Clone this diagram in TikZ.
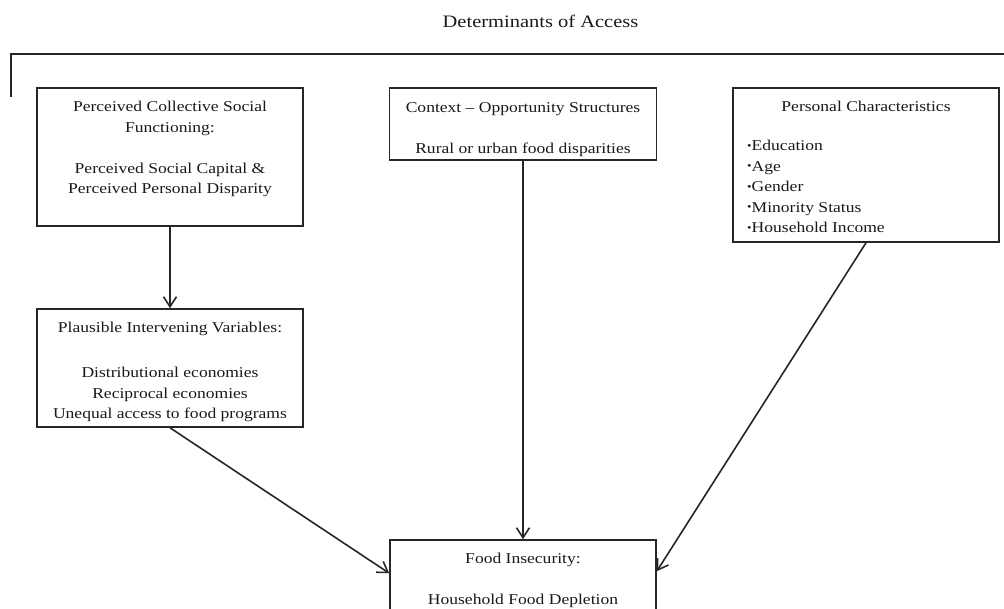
\documentclass[tikz,border=0pt]{standalone}
\usepackage{fontspec}
\setmainfont{Liberation Serif}[FakeStretch=1.17]
\usetikzlibrary{arrows.meta}
\newcommand{\bul}{\raisebox{1.6pt}{\fontsize{11}{11}\selectfont •}}
\begin{document}
\begin{tikzpicture}[x=1pt,y=-1pt,
  every node/.style={text=black!90},
  box/.style={draw=black!85, line width=1.6pt, inner sep=0pt, rectangle},
  txt/.style={inner sep=0pt, align=center, font=\fontsize{15}{20.5}\selectfont},
  arr/.style={draw=black!85, line width=1.6pt, -{Straight Barb[length=10pt,width=13pt,line width=1.6pt]}}]
\useasboundingbox (0,0) rectangle (1004,609);
\clip (0,0) rectangle (1004,609);
% title and bracket
\node[inner sep=0pt, anchor=base, font=\fontsize{17.5}{20}\selectfont] (title) at (540.5,27.7) {Determinants of Access};
\coordinate (brL) at (11,97);
\coordinate (brR) at (1010,54);
\draw[line width=1.6pt, draw=black!85] (brL) |- (brR);
% boxes
\node[box, minimum width=266pt, minimum height=138pt] (b1) at (170,157) {};
\node[box, minimum width=267pt, minimum height=72pt] (b2) at (523,124) {};
\node[box, minimum width=266pt, minimum height=154pt] (b3) at (866,165) {};
\node[box, minimum width=266pt, minimum height=118pt] (b4) at (170,368) {};
\node[box, minimum width=266pt, minimum height=140pt] (b5) at (523,610) {};
% texts
\node[txt, anchor=north] (t1) at (170,101) {Perceived Collective Social\\Functioning:\\[20.5pt]Perceived Social Capital \&\\Perceived Personal Disparity};
\node[txt, anchor=north] (t2) at (523,102) {Context -- Opportunity Structures\\[20.5pt]Rural or urban food disparities};
\node[txt, anchor=base] (t3a) at (866,112) {Personal Characteristics};
\node[txt, anchor=north west, align=left] (t3b) at (747,140) {\bul Education\\\bul Age\\\bul Gender\\\bul Minority Status\\\bul Household Income};
\node[txt, anchor=north] (t4) at (170,322) {Plausible Intervening Variables:\\[24.5pt]Distributional economies\\Reciprocal economies\\Unequal access to food programs};
\node[txt, anchor=north] (t5) at (523,553) {Food Insecurity:\\[20.5pt]Household Food Depletion};
% connectors
\draw[arr] (b1.south) -- (b4.north);
\draw[arr] (b2.south) -- (b5.north);
\draw[arr] (b4.south) -- ([yshift=-34pt]b5.north west);
\draw[arr] (b3.south) -- ([yshift=-32pt]b5.north east);
\end{tikzpicture}
\end{document}
